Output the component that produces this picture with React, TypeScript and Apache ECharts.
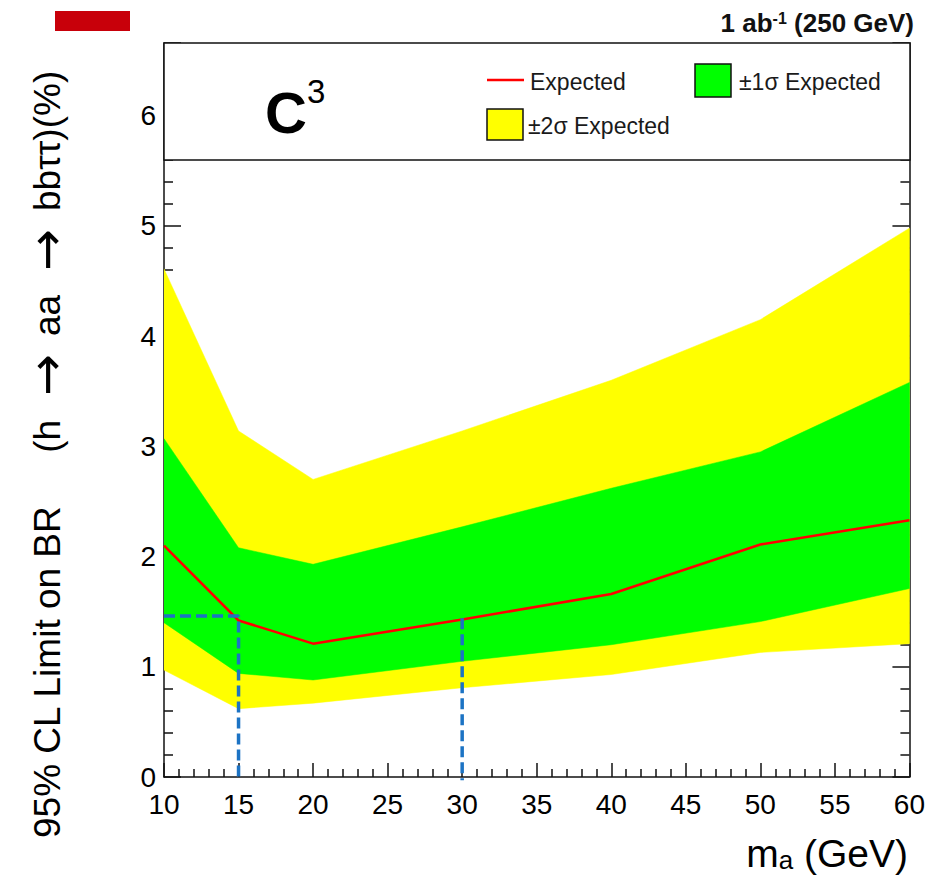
import React, { useEffect, useRef } from 'react';
import * as echarts from 'echarts';

// Mass points (GeV)
const MASS = [10, 15, 20, 30, 40, 50, 60];
// Expected 95% CL limit on BR (%)
const EXPECTED = [2.10, 1.42, 1.21, 1.43, 1.66, 2.11, 2.33];
// ±1σ band
const SIGMA1_UP = [3.07, 2.08, 1.93, 2.27, 2.62, 2.95, 3.58];
const SIGMA1_DN = [1.40, 0.94, 0.88, 1.05, 1.20, 1.41, 1.71];
// ±2σ band
const SIGMA2_UP = [4.61, 3.14, 2.70, 3.14, 3.60, 4.15, 4.98];
const SIGMA2_DN = [0.97, 0.62, 0.67, 0.81, 0.93, 1.13, 1.21];
// Reference dashed lines
const REF_H = [[10, 1.46], [15, 1.46], [15, -0.03]];
const REF_V = [[30, 1.44], [30, -0.03]];

const FONT = '"Liberation Sans", Arial, Helvetica, sans-serif';
const ARROW = '\u2192';

export default function App() {
  const ref = useRef<HTMLDivElement>(null);
  useEffect(() => {
    const chart = echarts.init(ref.current!, null, { renderer: 'svg' });

    const band = (up: number[], dn: number[], color: string, z: number) => ({
      type: 'custom',
      silent: true,
      clip: true,
      z,
      data: [[MASS[0], dn[0]]],
      renderItem: (_params: any, api: any) => {
        const pts: number[][] = [];
        MASS.forEach((m, i) => pts.push(api.coord([m, up[i]])));
        for (let i = MASS.length - 1; i >= 0; i--) pts.push(api.coord([MASS[i], dn[i]]));
        return {
          type: 'polygon',
          shape: { points: pts },
          style: { fill: color, stroke: color, lineWidth: 0.5 },
        };
      },
    });

    const axisCol = '#111';
    const yAxisBase = {
      type: 'value',
      min: 0,
      max: 6.66,
      interval: 1,
      axisLine: { show: true, onZero: false, lineStyle: { color: axisCol, width: 1.5 } },
      axisTick: { show: true, inside: true, length: 17, lineStyle: { color: axisCol, width: 1.5 } },
      minorTick: { show: true, splitNumber: 5, length: 9, lineStyle: { color: axisCol, width: 1.5 } },
      splitLine: { show: false },
      minorSplitLine: { show: false },
    };

    const dashStyle = { color: '#1c73c4', width: 3.5, type: [11, 5] };

    chart.setOption({
      animation: false,
      backgroundColor: '#fff',
      grid: { left: 164, right: 18, top: 43, bottom: 99, containLabel: false },
      xAxis: {
        type: 'value',
        min: 10,
        max: 60,
        interval: 5,
        axisLine: { show: true, onZero: false, lineStyle: { color: axisCol, width: 1.5 } },
        axisTick: { show: true, inside: true, length: 14, lineStyle: { color: axisCol, width: 1.5 } },
        minorTick: { show: true, splitNumber: 5, length: 8, lineStyle: { color: axisCol, width: 1.5 } },
        splitLine: { show: false },
        axisLabel: { fontSize: 28, color: '#000', margin: 13, fontFamily: FONT },
      },
      yAxis: [
        {
          ...yAxisBase,
          position: 'left',
          axisLabel: { fontSize: 28, color: '#000', margin: 8, fontFamily: FONT, showMaxLabel: false },
        },
        {
          ...yAxisBase,
          position: 'right',
          axisLabel: { show: false },
        },
      ],
      series: [
        band(SIGMA2_UP, SIGMA2_DN, '#ffff00', 1),
        band(SIGMA1_UP, SIGMA1_DN, '#00ff00', 2),
        {
          type: 'line',
          data: MASS.map((m, i) => [m, EXPECTED[i]]),
          symbol: 'none',
          lineStyle: { color: '#ff0000', width: 2.5 },
          z: 3,
          silent: true,
        },
        {
          type: 'line',
          data: REF_H,
          symbol: 'none',
          clip: false,
          lineStyle: dashStyle,
          z: 4,
          silent: true,
        },
        {
          type: 'line',
          data: REF_V,
          symbol: 'none',
          clip: false,
          lineStyle: dashStyle,
          z: 4,
          silent: true,
        },
      ],
      graphic: [
        {
          type: 'rect',
          z: 100,
          shape: { x: 55, y: 11, width: 75, height: 20 },
          style: { fill: '#c8000a' },
        },
        {
          type: 'text',
          z: 100,
          x: 914,
          y: 23,
          style: {
            text: '{b|1 ab}{s|-1}{b| (250 GeV)}',
            align: 'right',
            verticalAlign: 'middle',
            rich: {
              b: { fontSize: 26, fontWeight: 'bold', fontFamily: FONT, fill: '#111' },
              s: { fontSize: 16, fontWeight: 'bold', fontFamily: FONT, fill: '#111', verticalAlign: 'top' },
            },
          },
        },
        {
          type: 'rect',
          z: 100,
          shape: { x: 164, y: 43, width: 746, height: 117 },
          style: { fill: '#fff', stroke: axisCol, lineWidth: 1.5 },
        },
        {
          type: 'text',
          z: 101,
          x: 265,
          y: 112,
          style: { text: 'C', fontSize: 58, fontWeight: 'bold', fontFamily: FONT, fill: '#000', align: 'left', verticalAlign: 'middle' },
        },
        {
          type: 'text',
          z: 101,
          x: 307,
          y: 91,
          style: { text: '3', fontSize: 33, fontFamily: FONT, fill: '#000', align: 'left', verticalAlign: 'middle' },
        },
        {
          type: 'line',
          z: 101,
          shape: { x1: 487, y1: 80, x2: 524, y2: 80 },
          style: { stroke: '#ff0000', lineWidth: 2.5 },
        },
        {
          type: 'text',
          z: 101,
          x: 530,
          y: 82,
          style: { text: 'Expected', fontSize: 23, fontFamily: FONT, fill: '#1a1a1a', align: 'left', verticalAlign: 'middle' },
        },
        {
          type: 'rect',
          z: 101,
          shape: { x: 695, y: 64, width: 36, height: 33 },
          style: { fill: '#00ff00', stroke: '#111', lineWidth: 1.5 },
        },
        {
          type: 'text',
          z: 101,
          x: 739,
          y: 82,
          style: { text: '\u00b11\u03c3 Expected', fontSize: 23, fontFamily: FONT, fill: '#1a1a1a', align: 'left', verticalAlign: 'middle' },
        },
        {
          type: 'rect',
          z: 101,
          shape: { x: 487, y: 109, width: 36, height: 31 },
          style: { fill: '#ffff00', stroke: '#111', lineWidth: 1.5 },
        },
        {
          type: 'text',
          z: 101,
          x: 528,
          y: 126,
          style: { text: '\u00b12\u03c3 Expected', fontSize: 23, fontFamily: FONT, fill: '#1a1a1a', align: 'left', verticalAlign: 'middle' },
        },
        {
          type: 'text',
          z: 100,
          x: 47,
          y: 838,
          rotation: Math.PI / 2,
          style: {
            text: `{t|95% CL Limit on BR}{h|(h}{ar|${ARROW}}{aa|aa}{ar|${ARROW}}{t|bb\u03c4\u03c4)(%)}`,
            align: 'left',
            verticalAlign: 'middle',
            rich: {
              t: { fontSize: 37, fontFamily: FONT, fill: '#000' },
              h: { fontSize: 37, fontFamily: FONT, fill: '#000', padding: [0, 24, 0, 52] },
              aa: { fontSize: 37, fontFamily: FONT, fill: '#000', padding: [0, 24, 0, 0] },
              ar: { fontSize: 50, fontFamily: '"DejaVu Sans", sans-serif', fill: '#000', padding: [0, 18, 0, 0] },
            },
          },
        },
        {
          type: 'text',
          z: 100,
          x: 908,
          y: 853,
          style: {
            text: '{m|m}{a|a}{m| (GeV)}',
            align: 'right',
            verticalAlign: 'middle',
            rich: {
              m: { fontSize: 39, fontFamily: FONT, fill: '#000' },
              a: { fontSize: 26, fontFamily: FONT, fill: '#000', verticalAlign: 'bottom' },
            },
          },
        },
      ],
    });
    return () => chart.dispose();
  }, []);

  return (
    <div
      ref={ref}
      style={{ position: 'fixed', left: 0, top: 0, width: 928, height: 876, background: '#fff' }}
    />
  );
}
